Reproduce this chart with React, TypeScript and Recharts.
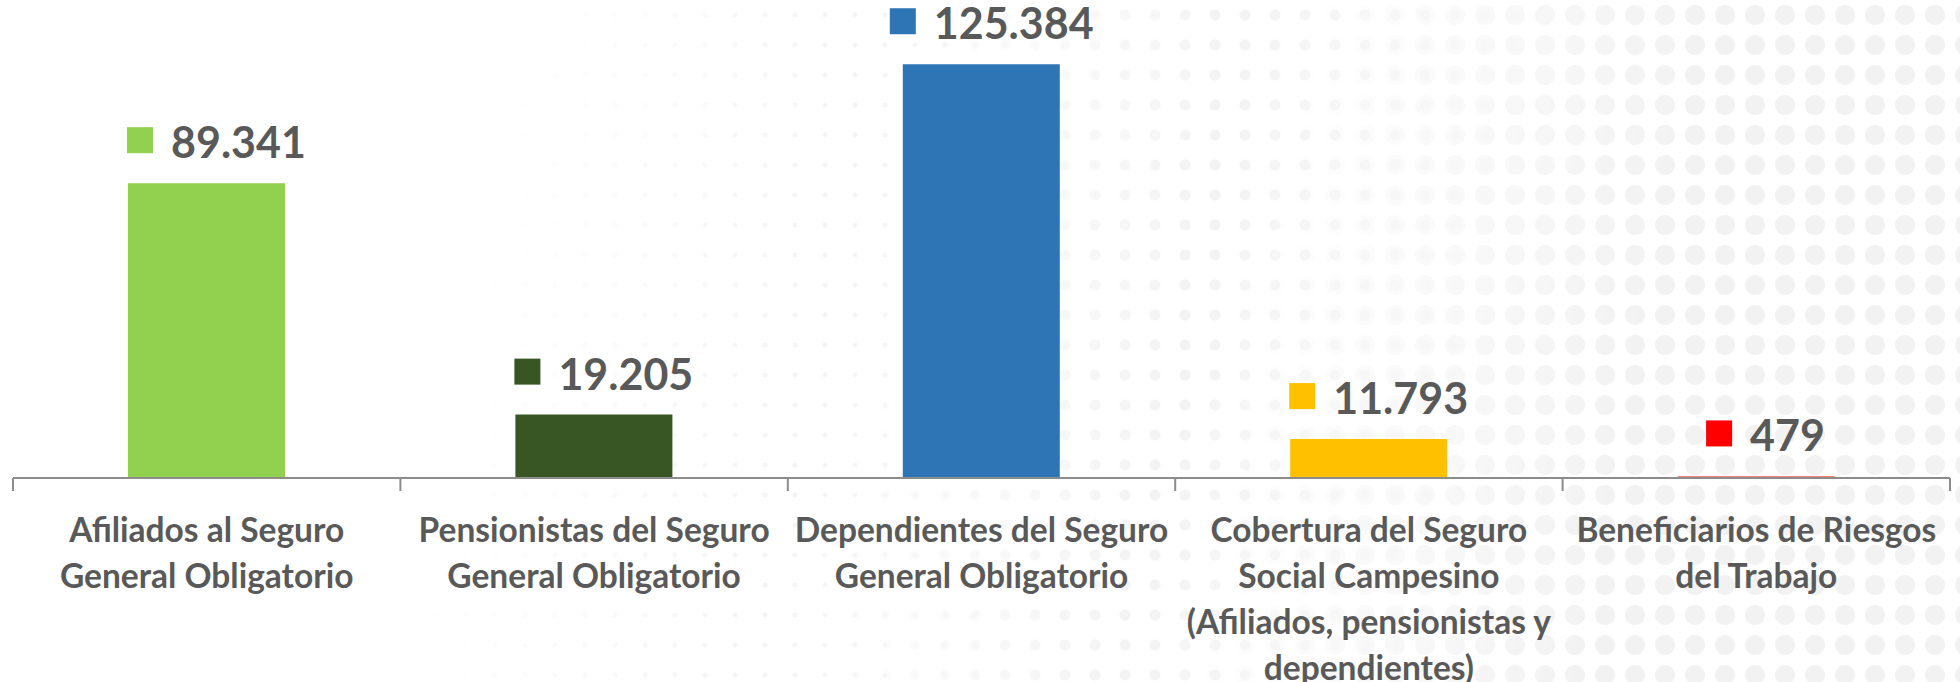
import { Bar, BarChart, Cell, XAxis, YAxis } from 'recharts'

const categories = [
    'Afiliados al Seguro\nGeneral Obligatorio',
    'Pensionistas del Seguro\nGeneral Obligatorio',
    'Dependientes del Seguro\nGeneral Obligatorio',
    'Cobertura del Seguro\nSocial Campesino\n(Afiliados, pensionistas y\ndependientes)',
    'Beneficiarios de Riesgos\ndel Trabajo',
]

const values = [89341, 19205, 125384, 11793, 479]

const barColors = ['#92D050', '#375623', '#2E75B6', '#FFC000', '#FF0000']

const data = categories.map((name, i) => ({ name, total: values[i] }))

const textGray = '#595959'
const axisGray = '#8c8c8c'

// miles con punto, como en el original
const formatValue = (v: number) => String(v).replace(/\B(?=(\d{3})+(?!\d))/g, '.')

function ValueLabel(props: any) {
    const { x, y, width, value, index } = props
    const txt = formatValue(value)
    // ancho aproximado del texto (Lato bold 43px)
    const textW = txt.split('').reduce((s, c) => s + (c === '.' ? 11 : 24), 0)
    const groupW = 26 + 18 + textW
    const left = x + width / 2 + 8 - groupW / 2
    const baseline = y - 25
    return (
        <g>
            <rect x={left} y={baseline - 31} width={26} height={26} fill={barColors[index]} />
            <text
                x={left + 44}
                y={baseline}
                fill={textGray}
                fontSize={43}
                fontWeight={700}
                textAnchor="start"
            >
                {txt}
            </text>
        </g>
    )
}

function CategoryTick(props: any) {
    const { x, y, payload, index, visibleTicksCount } = props
    const half = payload.offset ?? 0
    const lines = String(payload.value).split('\n')
    return (
        <g>
            <line x1={x - half} y1={y} x2={x - half} y2={y + 13} stroke={axisGray} strokeWidth={2} />
            {index === visibleTicksCount - 1 && (
                <line x1={x + half} y1={y} x2={x + half} y2={y + 13} stroke={axisGray} strokeWidth={2} />
            )}
            <text x={x} y={y + 64} fill={textGray} fontSize={33.5} fontWeight={700} textAnchor="middle">
                {lines.map((line, i) => (
                    <tspan key={i} x={x} dy={i === 0 ? 0 : 46}>
                        {line}
                    </tspan>
                ))}
            </text>
        </g>
    )
}

const dotLayer = (color: string, r: number, mask: string) => (
    <div
        style={{
            position: 'absolute',
            inset: 0,
            backgroundImage: `radial-gradient(circle, ${color} ${r}px, transparent ${r + 1}px)`,
            backgroundSize: '30px 30px',
            WebkitMaskImage: mask,
            maskImage: mask,
        }}
    />
)

export default function App() {
    return (
        <div
            style={{
                position: 'absolute',
                left: 0,
                top: 0,
                width: 1960,
                height: 682,
                overflow: 'hidden',
                background: '#ffffff',
                fontFamily: 'Lato, "Open Sans", sans-serif',
            }}
        >
            {dotLayer('#f4f4f4', 2, 'linear-gradient(100deg, transparent 25%, #000 42%, transparent 58%)')}
            {dotLayer('#f3f3f3', 5, 'linear-gradient(100deg, transparent 45%, #000 60%, transparent 75%)')}
            {dotLayer('#f2f2f2', 9.5, 'linear-gradient(100deg, transparent 63%, #000 82%)')}
            <BarChart
                width={1960}
                height={682}
                data={data}
                margin={{ top: 16, right: 10, bottom: 4, left: 13 }}
                style={{ position: 'absolute', left: 0, top: 0 }}
            >
                <XAxis
                    dataKey="name"
                    height={200}
                    interval={0}
                    tickLine={false}
                    tickSize={0}
                    tickMargin={0}
                    axisLine={{ stroke: axisGray, strokeWidth: 2 }}
                    tick={(p: any) => <CategoryTick {...p} />}
                />
                <YAxis hide domain={[0, 140000]} />
                <Bar dataKey="total" barSize={157} isAnimationActive={false} label={(p: any) => <ValueLabel {...p} />}>
                    {data.map((d, i) => (
                        <Cell key={d.name} fill={barColors[i]} />
                    ))}
                </Bar>
            </BarChart>
        </div>
    )
}
